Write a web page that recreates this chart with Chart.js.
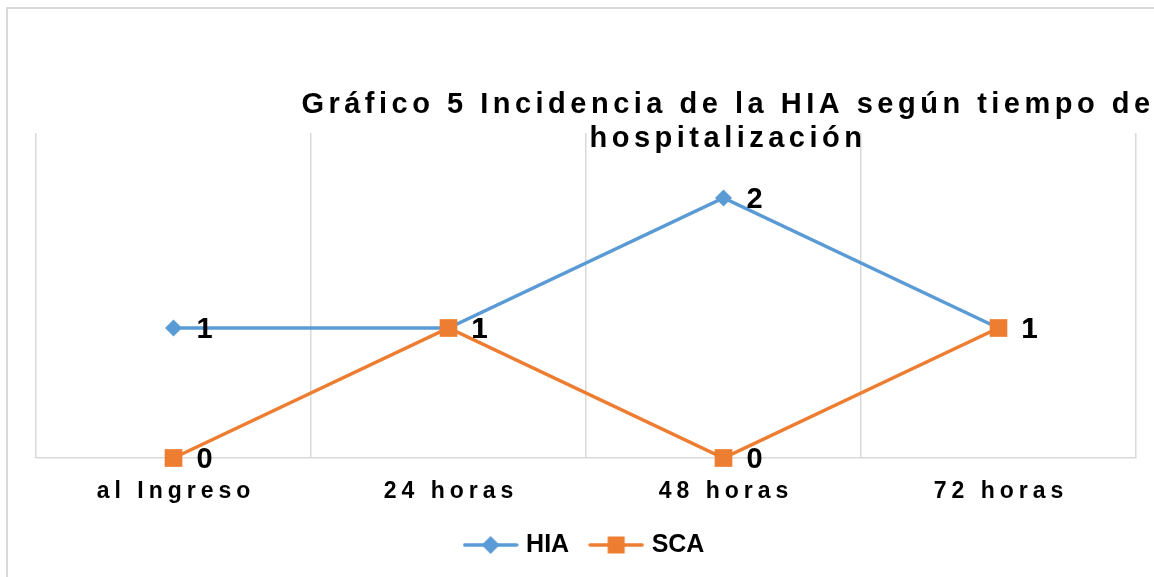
<!DOCTYPE html>
<html>
<head>
<meta charset="utf-8">
<script src="https://cdn.jsdelivr.net/npm/chart.js@4.4.0/dist/chart.umd.min.js"></script>
<style>
  html, body { margin: 0; padding: 0; background: #fff; overflow: hidden; }
  #frame { position: absolute; left: 6px; top: 7px; width: 1200px; height: 620px; border: 2px solid #d9d9d9; box-sizing: border-box; }
  #wrap { position: absolute; left: 0; top: 0; width: 1154px; height: 577px; }
</style>
</head>
<body>
<div id="frame"></div>
<div id="wrap"><canvas id="chart"></canvas></div>
<script>
const categories = ['al Ingreso', '24 horas', '48 horas', '72 horas'];
const hiaValues = [1, 1, 2, 1];
const scaValues = [0, 1, 0, 1];
const titleLines = ['Gráfico 5 Incidencia de la HIA según tiempo de', 'hospitalización'];

const FONT = "'Liberation Sans', Arial, sans-serif";
const BLUE = '#5b9bd5';
const ORANGE = '#ed7d31';

// legend glyph: short line with the marker in the middle
function legendSymbol(color, style) {
  const c = document.createElement('canvas');
  c.width = 56;
  c.height = 22;
  const g = c.getContext('2d');
  g.strokeStyle = color;
  g.lineWidth = 3.5;
  g.lineCap = 'round';
  g.beginPath();
  g.moveTo(2, 11);
  g.lineTo(54, 11);
  g.stroke();
  g.fillStyle = color;
  g.beginPath();
  if (style === 'diamond') {
    g.moveTo(28, 2); g.lineTo(37, 11); g.lineTo(28, 20); g.lineTo(19, 11); g.closePath();
  } else {
    g.rect(19.5, 2.5, 17, 17);
  }
  g.fill();
  return c;
}
const symbols = [legendSymbol(BLUE, 'diamond'), legendSymbol(ORANGE, 'square')];

// spaced-out x tick labels like the original
const tickSpacing = {
  id: 'tickSpacing',
  afterUpdate(chart) {
    const s = chart.scales.x;
    if (s && !s._spaced) {
      const orig = s.drawLabels;
      s.drawLabels = function (area) {
        const c = this.ctx;
        c.save();
        c.letterSpacing = '5px';
        c.translate(2.5, 0);
        orig.call(this, area);
        c.restore();
      };
      s._spaced = true;
    }
  }
};

const valueLabels = {
  id: 'valueLabels',
  afterDatasetsDraw(chart) {
    const ctx = chart.ctx;
    ctx.save();
    ctx.font = 'bold 29px ' + FONT;
    ctx.fillStyle = '#000';
    ctx.textAlign = 'left';
    ctx.textBaseline = 'middle';
    chart.data.datasets.forEach((ds, i) => {
      chart.getDatasetMeta(i).data.forEach((pt, j) => {
        ctx.fillText(String(ds.data[j]), pt.x + 23, pt.y + 2);
      });
    });
    ctx.restore();
  }
};

const offsetTitle = {
  id: 'offsetTitle',
  afterDraw(chart) {
    const ctx = chart.ctx;
    ctx.save();
    ctx.font = 'bold 29px ' + FONT;
    ctx.letterSpacing = '4.5px';
    ctx.fillStyle = '#000';
    ctx.textAlign = 'center';
    ctx.textBaseline = 'alphabetic';
    ctx.fillText(titleLines[0], 728, 113);
    ctx.fillText(titleLines[1], 728, 147);
    ctx.restore();
  }
};

const ctx = document.getElementById('chart').getContext('2d');

new Chart(ctx, {
  type: 'line',
  data: {
    labels: categories,
    datasets: [
      {
        label: 'HIA',
        data: hiaValues,
        borderColor: BLUE,
        backgroundColor: BLUE,
        borderWidth: 3.5,
        pointStyle: 'rectRot',
        pointRadius: 8.5,
        pointBorderWidth: 0,
        pointBackgroundColor: BLUE,
        tension: 0,
        clip: false,
        order: 1
      },
      {
        label: 'SCA',
        data: scaValues,
        borderColor: ORANGE,
        backgroundColor: ORANGE,
        borderWidth: 3.5,
        pointStyle: 'rect',
        pointRadius: 12.5,
        pointBorderWidth: 0,
        pointBackgroundColor: ORANGE,
        tension: 0,
        clip: false,
        order: 0
      }
    ]
  },
  options: {
    responsive: true,
    maintainAspectRatio: false,
    animation: false,
    events: [],
    layout: { padding: { top: 133, left: 36, right: 18, bottom: 9.5 } },
    scales: {
      x: {
        offset: true,
        grid: { offset: true, color: '#d9d9d9', lineWidth: 1.5, drawTicks: false },
        border: { display: true, color: '#d9d9d9', width: 1.5 },
        ticks: {
          color: '#000',
          font: { family: FONT, size: 23, weight: 'bold' },
          padding: 20,
          maxRotation: 0,
          autoSkip: false
        },
        afterFit(s) { s.height = 50.5; }
      },
      y: { display: false, min: 0, max: 2.5 }
    },
    plugins: {
      title: { display: false },
      tooltip: { enabled: false },
      legend: {
        position: 'bottom',
        labels: {
          usePointStyle: true,
          pointStyleWidth: 46,
          padding: 24,
          color: '#000',
          font: { family: FONT, size: 25, weight: 'bold' },
          sort: (a, b) => a.datasetIndex - b.datasetIndex,
          generateLabels(chart) {
            const items = Chart.defaults.plugins.legend.labels.generateLabels(chart);
            items.forEach(it => { it.pointStyle = symbols[it.datasetIndex]; });
            return items;
          }
        }
      }
    }
  },
  plugins: [tickSpacing, valueLabels, offsetTitle]
});
</script>
</body>
</html>
